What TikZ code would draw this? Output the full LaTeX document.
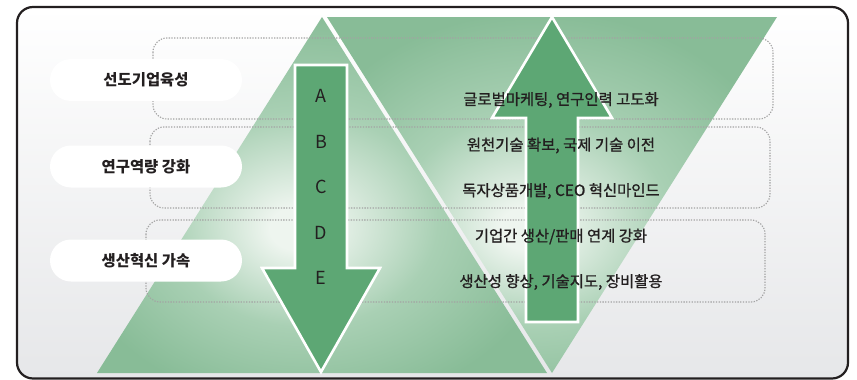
\documentclass[tikz,border=0pt]{standalone}
\usepackage{fontspec}
\setmainfont{Noto Sans CJK KR}
\newfontfamily\goalfont{Noto Sans CJK KR}[FakeBold=1.1]
\usetikzlibrary{shapes.geometric, arrows, positioning, calc}
\definecolor{framecolor}{HTML}{231F20}
\definecolor{framebottom}{HTML}{E6E7E9}
\definecolor{tridark}{HTML}{88BC97}
\definecolor{trimid}{HTML}{A9D0B4}
\definecolor{trilight}{HTML}{EEF5EF}
\definecolor{arrowgreen}{HTML}{5DA774}
\definecolor{dotgray}{HTML}{A3A3A3}
\definecolor{textdark}{HTML}{231F20}
\pgfdeclareradialshading{trishade}{\pgfpoint{-3bp}{-5bp}}{color(0bp)=(trilight); color(3bp)=(trilight); color(15bp)=(trimid); color(28bp)=(tridark); color(50bp)=(tridark)}

\begin{document}
\begin{tikzpicture}[x=1pt, y=-1pt, node distance=45.5pt, >=latex']
    \tikzstyle{band} = [draw=dotgray, line width=1.1pt, dash pattern=on 1.3pt off 1.4pt, rounded corners=14pt]
    \tikzstyle{pill} = [rectangle, fill=white, rounded corners=21pt, minimum width=192pt, minimum height=42pt, text=textdark, font=\bfseries\fontsize{15.4}{17}\selectfont]
    \tikzstyle{letter} = [text=textdark, font=\fontsize{18}{20}\selectfont]
    \tikzstyle{goal} = [text=textdark, font=\goalfont\fontsize{15.4}{17}\selectfont]
    \tikzstyle{bigarrow} = [fill=arrowgreen, draw=white, line width=2.6pt]

    \useasboundingbox (0,0) rectangle (857,380);
    % frame
    \shade [top color=white, bottom color=framebottom, draw=framecolor, line width=2.2pt, rounded corners=16pt] (17,7) rectangle (848,378.5);

    % triangles
    \shade [shading=trishade] (97,373) -- (322,17) -- (547,373) -- cycle;
    \shade [shading=trishade] (327,17) -- (777,17) -- (552,373) -- cycle;

    % dotted bands
    \draw [band] (153,38) rectangle (773,119);
    \draw [band] (150,127) rectangle (770,208);
    \draw [band] (146,220) rectangle (765,302);

    % arrows
    \draw [bigarrow] (295,65) -- (347,65) -- (347,268) -- (380,268) -- (321,372) -- (262,268) -- (295,268) -- cycle;
    \draw [bigarrow] (552,17) -- (612,118) -- (578,118) -- (578,322) -- (526,322) -- (526,118) -- (492,118) -- cycle;

    % left labels
    \node (lead) [pill] at (146,80) {선도기업육성};
    \node (research) [pill] at (146,166.5) {연구역량 강화};
    \node (produce) [pill] at (146,260.5) {생산혁신 가속};

    % letters
    \node (letA) [letter] at (321,96) {A};
    \node (letB) [letter, below of=letA] {B};
    \node (letC) [letter, below of=letB] {C};
    \node (letD) [letter, below of=letC] {D};
    \node (letE) [letter, below of=letD] {E};

    % right texts
    \node (goal1) [goal] at (561,100) {글로벌마케팅, 연구인력 고도화};
    \node (goal2) [goal, below of=goal1] {원천기술 확보, 국제 기술 이전};
    \node (goal3) [goal, below of=goal2] {독자상품개발, CEO 혁신마인드};
    \node (goal4) [goal, below of=goal3] {기업간 생산/판매 연계 강화};
    \node (goal5) [goal, below of=goal4] {생산성 향상, 기술지도, 장비활용};
\end{tikzpicture}
\end{document}
